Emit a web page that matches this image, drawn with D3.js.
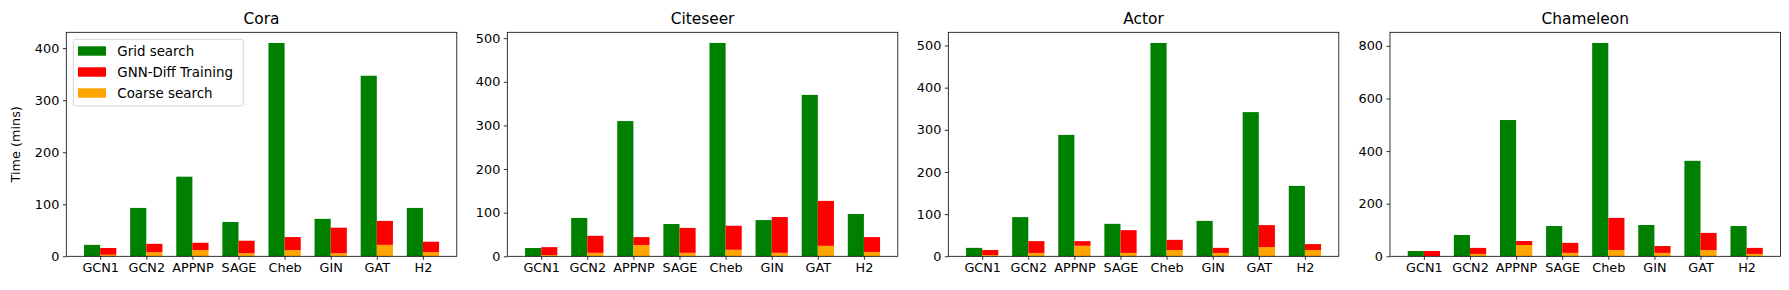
<!DOCTYPE html>
<html>
<head>
<meta charset="utf-8">
<script src="https://cdn.jsdelivr.net/npm/d3@7"></script>
<style>
  body { margin: 0; background: #fff; }
  svg { display: block; font-family: "DejaVu Sans", sans-serif; }
</style>
</head>
<body>
<svg id="chart" width="1789" height="290"></svg>
<script>
const models = ["GCN1", "GCN2", "APPNP", "SAGE", "Cheb", "GIN", "GAT", "H2"];
const datasets = ["Cora", "Citeseer", "Actor", "Chameleon"];

// minutes, one row per dataset
const gridSearch = [
  [22, 93, 153, 66, 410, 72, 347, 93],
  [19, 88, 310, 74, 489, 83, 370, 97],
  [20, 93, 288, 77, 506, 84, 342, 167],
  [20, 81, 518, 115, 811, 119, 363, 115],
];
const coarseSearch = [
  [3, 8, 12, 6, 12, 6, 22, 8],
  [3, 8, 26, 8, 15, 8, 24, 10],
  [3, 8, 25, 8, 15, 8, 22, 15],
  [1, 9, 43, 13, 24, 13, 24, 9],
];
const diffTraining = [
  [13, 16, 14, 24, 25, 49, 46, 20],
  [18, 39, 18, 57, 55, 82, 103, 34],
  [12, 28, 11, 54, 24, 12, 52, 14],
  [19, 23, 15, 38, 122, 26, 65, 23],
];
const yTicks = [
  [0, 100, 200, 300, 400],
  [0, 100, 200, 300, 400, 500],
  [0, 100, 200, 300, 400, 500],
  [0, 200, 400, 600, 800],
];

const legendItems = [
  { label: "Grid search", color: "green" },
  { label: "GNN-Diff Training", color: "red" },
  { label: "Coarse search", color: "orange" },
];

const svg = d3.select("#chart");
const panelLeft = [66.3, 507.3, 948.3, 1390];
const panelW = 390.5;
const plotTop = 32.3, plotBottom = 256.3;
const barW = 0.35;
const fs = 12.8;

datasets.forEach((name, p) => {
  const g = svg.append("g");
  const left = panelLeft[p], right = left + panelW;

  const x = d3.scaleLinear()
    .domain([-barW - 0.385, models.length - 1 + barW + 0.385])
    .range([left, right]);

  const tops = models.map((m, i) =>
    Math.max(gridSearch[p][i], coarseSearch[p][i] + diffTraining[p][i]));
  const y = d3.scaleLinear()
    .domain([0, d3.max(tops) * 1.05])
    .range([plotBottom, plotTop]);

  // grid search bars
  g.selectAll(".grid")
    .data(gridSearch[p])
    .join("rect")
    .attr("x", (d, i) => x(i - barW))
    .attr("width", (d, i) => x(i) - x(i - barW))
    .attr("y", d => y(d))
    .attr("height", d => y(0) - y(d))
    .attr("fill", "green");

  // coarse search (bottom of stack)
  g.selectAll(".coarse")
    .data(coarseSearch[p])
    .join("rect")
    .attr("x", (d, i) => x(i))
    .attr("width", (d, i) => x(i + barW) - x(i))
    .attr("y", d => y(d))
    .attr("height", d => y(0) - y(d))
    .attr("fill", "orange");

  // training stacked on top
  g.selectAll(".train")
    .data(diffTraining[p])
    .join("rect")
    .attr("x", (d, i) => x(i))
    .attr("width", (d, i) => x(i + barW) - x(i))
    .attr("y", (d, i) => y(coarseSearch[p][i] + d))
    .attr("height", (d, i) => y(coarseSearch[p][i]) - y(coarseSearch[p][i] + d))
    .attr("fill", "red");

  const xAxis = d3.axisBottom(x)
    .tickValues(d3.range(models.length))
    .tickFormat(i => models[i])
    .tickSize(3.5).tickPadding(3.5);
  const gx = g.append("g")
    .attr("transform", `translate(0,${plotBottom})`)
    .call(xAxis);

  const yAxis = d3.axisLeft(y)
    .tickValues(yTicks[p])
    .tickFormat(d3.format("d"))
    .tickSize(3.5).tickPadding(3.5);
  const gy = g.append("g")
    .attr("transform", `translate(${left},0)`)
    .call(yAxis);

  [gx, gy].forEach(a => {
    a.select(".domain").remove();
    a.selectAll("line").attr("stroke", "#000").attr("stroke-width", 0.8);
    a.selectAll("text")
      .attr("fill", "#000")
      .style("font-size", fs + "px")
      .style("font-family", "DejaVu Sans");
  });

  // frame
  g.append("rect")
    .attr("x", left).attr("y", plotTop)
    .attr("width", panelW).attr("height", plotBottom - plotTop)
    .attr("fill", "none").attr("stroke", "#000").attr("stroke-width", 0.8);

  g.append("text")
    .attr("x", (left + right) / 2)
    .attr("y", plotTop - 8.5)
    .attr("text-anchor", "middle")
    .style("font-size", "15.4px")
    .text(name);

  if (p === 0) {
    g.append("text")
      .attr("transform", `translate(20,${(plotTop + plotBottom) / 2}) rotate(-90)`)
      .attr("text-anchor", "middle")
      .style("font-size", fs + "px")
      .text("Time (mins)");

    const lg = g.append("g").attr("transform", `translate(${left + 7},${plotTop + 7})`);
    lg.append("rect")
      .attr("width", 170).attr("height", 66.7)
      .attr("rx", 2)
      .attr("fill", "#fff").attr("fill-opacity", 0.8)
      .attr("stroke", "#ccc").attr("stroke-width", 0.8);
    legendItems.forEach((it, k) => {
      const cy = 11.7 + k * 21;
      lg.append("rect")
        .attr("x", 4.7).attr("y", cy - 4.7)
        .attr("width", 28).attr("height", 9.4)
        .attr("fill", it.color);
      lg.append("text")
        .attr("x", 44).attr("y", cy)
        .attr("dy", "0.35em")
        .style("font-size", "13.4px")
        .text(it.label);
    });
  }
});
</script>
</body>
</html>
